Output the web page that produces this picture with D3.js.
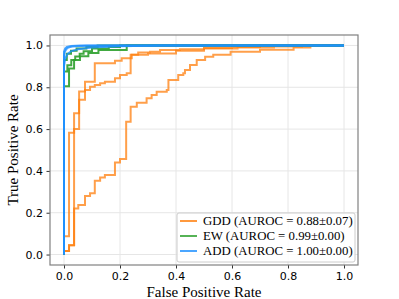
<!DOCTYPE html>
<html>
<head>
<meta charset="utf-8">
<script src="https://cdn.jsdelivr.net/npm/d3@7"></script>
<style>
  body { margin: 0; background: #fff; }
  .tick text { font-family: "DejaVu Sans", sans-serif; font-size: 11px; fill: #000; }
  .lab { font-family: "Liberation Serif", "Times New Roman", serif; font-size: 15px; fill: #000; }
  .leg { font-family: "Liberation Serif", "Times New Roman", serif; font-size: 12.8px; fill: #000; }
</style>
</head>
<body>
<div id="chart"></div>
<script>
// Tick values for both axes
var ticks = [0, 0.2, 0.4, 0.6, 0.8, 1.0];

// ROC runs as [fpr, tpr] corners (step after)
var gddRun1 = [[0,0],[0,0.017],[0.018,0.045],[0.036,0.22],[0.051,0.237],[0.075,0.28],[0.093,0.293],[0.11,0.353],[0.129,0.369],[0.146,0.38],[0.182,0.44],[0.2,0.457],[0.222,0.635],[0.238,0.707],[0.26,0.726],[0.295,0.747],[0.313,0.763],[0.331,0.779],[0.367,0.787],[0.373,0.835],[0.408,0.859],[0.426,0.867],[0.432,0.883],[0.45,0.907],[0.474,0.93],[0.504,0.946],[0.533,0.955],[0.595,0.97],[0.7,0.98],[0.82,0.99],[0.88,1],[1,1]];
var gddRun2 = [[0,0],[0,0.088],[0.018,0.583],[0.036,0.676],[0.054,0.78],[0.075,0.827],[0.11,0.915],[0.182,0.927],[0.206,0.939],[0.242,0.955],[0.265,0.966],[0.307,0.97],[0.343,0.978],[0.414,0.982],[0.5,0.988],[0.6,0.993],[0.7,1],[1,1]];
var gddRun3 = [[0,0],[0,0.017],[0.018,0.045],[0.036,0.6],[0.054,0.74],[0.075,0.787],[0.093,0.803],[0.11,0.811],[0.129,0.819],[0.146,0.827],[0.182,0.843],[0.2,0.859],[0.224,0.867],[0.238,0.955],[0.3,0.962],[0.4,0.975],[0.5,0.985],[0.62,0.99],[0.75,0.995],[0.85,1],[1,1]];

var ewRun1 = [[0,0],[0,0.805],[0.018,0.89],[0.036,0.93],[0.057,0.948],[0.087,0.964],[0.123,0.978],[0.224,1],[1,1]];
var ewRun2 = [[0,0],[0,0.875],[0.012,0.905],[0.026,0.93],[0.04,0.947],[0.056,0.96],[0.07,0.972],[0.1,0.985],[0.16,0.993],[0.2,1],[1,1]];
var ewRun3 = [[0,0],[0,0.93],[0.01,0.96],[0.025,0.975],[0.045,0.985],[0.08,0.993],[0.12,1],[1,1]];

// ADD runs are dense, drawn as straight segments
var addRun1 = [[0,0],[0,0.95],[0.003,0.97],[0.008,0.982],[0.015,0.99],[0.03,0.995],[0.08,0.998],[0.2,1],[1,1]];
var addRun2 = [[0,0],[0,0.9],[0.004,0.935],[0.012,0.958],[0.025,0.972],[0.05,0.982],[0.1,0.99],[0.2,0.996],[0.35,1],[1,1]];
var addRun3 = [[0,0],[0,0.97],[0.004,0.985],[0.01,0.993],[0.025,0.998],[0.06,1],[1,1]];

var legendLabels = ["GDD (AUROC = 0.88\u00b10.07)", "EW (AUROC = 0.99\u00b10.00)", "ADD (AUROC = 1.00\u00b10.00)"];
var colors = ["#ff7f0e", "#2ca02c", "#1e90ff"];

var W = 399, H = 299;
var margin = {left: 50, right: 41, top: 35, bottom: 34};

var svg = d3.select("#chart").append("svg")
    .attr("width", W)
    .attr("height", H);

var x = d3.scaleLinear().domain([-0.05, 1.05]).range([margin.left, W - margin.right]);
var y = d3.scaleLinear().domain([-0.05, 1.05]).range([H - margin.bottom, margin.top]);

// Grid lines
var grid = svg.append("g");
grid.selectAll("line.gx").data(ticks).enter().append("line")
    .attr("x1", function (d) { return x(d); })
    .attr("x2", function (d) { return x(d); })
    .attr("y1", y.range()[1]).attr("y2", y.range()[0])
    .attr("stroke", "#e6e6e6").attr("stroke-width", 1);
grid.selectAll("line.gy").data(ticks).enter().append("line")
    .attr("y1", function (d) { return y(d); })
    .attr("y2", function (d) { return y(d); })
    .attr("x1", x.range()[0]).attr("x2", x.range()[1])
    .attr("stroke", "#e6e6e6").attr("stroke-width", 1);

// Curves
var stepLine = d3.line()
    .x(function (d) { return x(d[0]); })
    .y(function (d) { return y(d[1]); })
    .curve(d3.curveStepAfter);
var smoothLine = d3.line()
    .x(function (d) { return x(d[0]); })
    .y(function (d) { return y(d[1]); });

var curves = svg.append("g").attr("fill", "none").attr("stroke-width", 2);

[gddRun1, gddRun2, gddRun3].forEach(function (run) {
    curves.append("path").attr("d", stepLine(run))
        .attr("stroke", colors[0]).attr("stroke-opacity", 0.75);
});
[ewRun1, ewRun2, ewRun3].forEach(function (run) {
    curves.append("path").attr("d", stepLine(run))
        .attr("stroke", colors[1]).attr("stroke-opacity", 0.9);
});
[addRun1, addRun2, addRun3].forEach(function (run) {
    curves.append("path").attr("d", smoothLine(run))
        .attr("stroke", colors[2]).attr("stroke-opacity", 0.8);
});

// Axes
var xAxis = d3.axisBottom(x).tickValues(ticks).tickFormat(d3.format(".1f")).tickSize(3.5).tickPadding(3.5);
var yAxis = d3.axisLeft(y).tickValues(ticks).tickFormat(d3.format(".1f")).tickSize(3.5).tickPadding(3.5);

var gx = svg.append("g").attr("transform", "translate(0," + (H - margin.bottom) + ")").call(xAxis);
var gy = svg.append("g").attr("transform", "translate(" + margin.left + ",0)").call(yAxis);
gx.select(".domain").remove();
gy.select(".domain").remove();
svg.selectAll(".tick line").attr("stroke", "#333");

// Frame
svg.append("rect")
    .attr("x", x.range()[0]).attr("y", y.range()[1])
    .attr("width", x.range()[1] - x.range()[0])
    .attr("height", y.range()[0] - y.range()[1])
    .attr("fill", "none").attr("stroke", "#808080").attr("stroke-width", 1.2);

// Axis labels
svg.append("text").attr("class", "lab")
    .attr("x", (x.range()[0] + x.range()[1]) / 2).attr("y", 297)
    .attr("text-anchor", "middle").text("False Positive Rate");
svg.append("text").attr("class", "lab")
    .attr("transform", "translate(18," + ((y.range()[0] + y.range()[1]) / 2) + ") rotate(-90)")
    .attr("text-anchor", "middle").text("True Positive Rate");

// Legend
var legend = svg.append("g").attr("transform", "translate(177,213)");
legend.append("rect")
    .attr("width", 178).attr("height", 49).attr("rx", 2)
    .attr("fill", "#fff").attr("fill-opacity", 0.85)
    .attr("stroke", "#cccccc").attr("stroke-width", 1);
var rows = legend.selectAll("g.row").data(legendLabels).enter().append("g")
    .attr("transform", function (d, i) { return "translate(0," + (8 + i * 15) + ")"; });
rows.append("line")
    .attr("x1", 3).attr("x2", 20)
    .attr("stroke", function (d, i) { return colors[i]; })
    .attr("stroke-opacity", 0.8)
    .attr("stroke-width", 2);
rows.append("text").attr("class", "leg")
    .attr("x", 26).attr("dy", "0.35em")
    .text(function (d) { return d; });
</script>
</body>
</html>
